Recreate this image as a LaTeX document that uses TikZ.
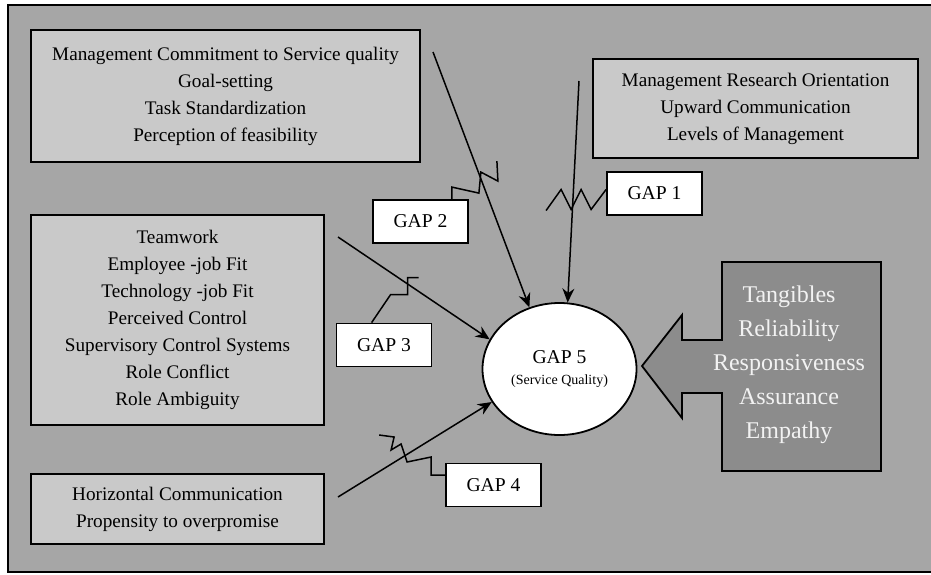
\documentclass[tikz,border=0pt]{standalone}
\usepackage{fontspec}
\setmainfont{Liberation Serif}
\usetikzlibrary{shapes.geometric,arrows.meta,calc}
\definecolor{framebg}{HTML}{A6A6A6}
\definecolor{boxbg}{HTML}{C9C9C9}
\definecolor{dimbg}{HTML}{8C8C8C}
\definecolor{dimtext}{HTML}{F2F2F2}

\begin{document}
\begin{tikzpicture}[x=0.5pt, y=-0.5pt,
  factor/.style={draw, line width=0.9pt, fill=boxbg, align=center, inner sep=0pt,
    font=\fontsize{9.6}{13.5}\selectfont},
  gapbox/.style={draw, line width=0.9pt, fill=white, minimum width=47.5pt,
    minimum height=21.5pt, inner sep=0pt, font=\fontsize{9.8}{12}\selectfont},
  link/.style={line width=0.75pt, -{Stealth[length=7pt,width=6pt]}},
  bolt/.style={line width=0.75pt}]
  \useasboundingbox (0,0) rectangle (931,574);

  % Outer frame
  \fill[framebg] (8,5) rectangle (931,572);
  \draw[line width=1pt] (931,5) -- (8,5) -- (8,572) -- (931,572);

  % Factor boxes
  \node[factor, minimum width=194.5pt, minimum height=66pt] (commit) at (225.5,96)
    {Management Commitment to Service quality\\Goal-setting\\Task Standardization\\Perception of feasibility};
  \node[factor, minimum width=162.5pt, minimum height=49.5pt] (research) at (755.5,108.5)
    {Management Research Orientation\\Upward Communication\\Levels of Management};
  \node[factor, minimum width=146.5pt, minimum height=105pt] (team) at (177.5,320)
    {Teamwork\\Employee -job Fit\\Technology -job Fit\\Perceived Control\\Supervisory Control Systems\\Role Conflict\\Role Ambiguity};
  \node[factor, minimum width=146.5pt, minimum height=35pt] (horiz) at (177.5,509)
    {Horizontal Communication\\Propensity to overpromise};

  % Gap labels
  \node[gapbox] (gap1) at (654.5,193.5) {GAP 1};
  \node[gapbox] (gap2) at (420.5,221.5) {GAP 2};
  \node[gapbox] (gap3) at (384,345) {GAP 3};
  \node[gapbox] (gap4) at (493.5,485) {GAP 4};

  % Service quality
  \node[ellipse, draw, line width=0.9pt, fill=white, minimum width=77pt, minimum height=66pt,
    inner sep=0pt, align=center] (gap5) at (559.5,369)
    {\fontsize{9.8}{10}\selectfont GAP 5\\[-1.5pt]\fontsize{7}{8}\selectfont (Service Quality)};

  % Dimensions block arrow
  \draw[line width=0.9pt, fill=dimbg] (722,262) -- (881,262) -- (881,471) -- (722,471)
    -- (722,393) -- (682,393) -- (682,418) -- (642,366) -- (682,315) -- (682,340)
    -- (722,340) -- cycle;
  \node[align=center, text=dimtext, font=\fontsize{12}{17}\selectfont] (dims) at (789,365)
    {Tangibles\\Reliability\\Responsiveness\\Assurance\\Empathy};

  % Arrows into GAP 5
  \coordinate (s1) at (579,81);
  \coordinate (s2) at (433,52);
  \coordinate (s3) at (338,237);
  \coordinate (s4) at (338,497);
  \draw[link] (s1) -- (gap5.83);
  \draw[link] (s2) -- (gap5.116);
  \draw[link] (s3) -- (gap5.157);
  \draw[link] (s4) -- (gap5.206);

  % Zigzag leaders
  \draw[bolt] ([yshift=2pt]gap1.west) -- ++(-15,20) -- ++(-10,-20) -- ++(-10,20)
    -- ++(-10,-20) -- ++(-15,21);
  \draw[bolt] ([xshift=-8.5pt]gap2.north east) -- ++(0,-12) -- ++(27,6) -- ++(2,-21)
    -- ++(17,9) -- ++(-1,-20);
  \draw[bolt] ([xshift=18pt]gap3.north west) -- ++(19,-28) -- ++(17,0) -- ++(0,-17)
    -- ++(11,0);
  \draw[bolt] ([yshift=5pt]gap4.west) -- ++(-14,0) -- ++(0,-18) -- ++(-24,5)
    -- ++(-6,-18) -- ++(-10,6) -- ++(3,-13) -- ++(-15,-2);
\end{tikzpicture}
\end{document}
